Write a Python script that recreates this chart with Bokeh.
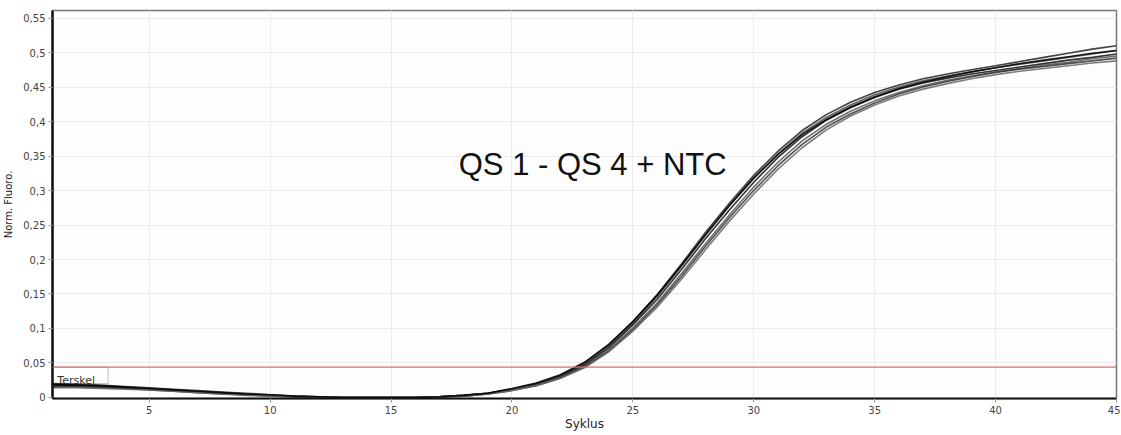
from bokeh.plotting import figure
from bokeh.models import Span, Label, FixedTicker, CustomJSTickFormatter, Range1d
from bokeh.embed import file_html
from bokeh.resources import INLINE

cycles = list(range(1, 46))
x_ticks = [5, 10, 15, 20, 25, 30, 35, 40, 45]
y_ticks = [0, 0.05, 0.1, 0.15, 0.2, 0.25, 0.3, 0.35, 0.4, 0.45, 0.5, 0.55]
threshold = 0.044
title_text = "QS 1 - QS 4 + NTC"
threshold_text = "Terskel"
x_label = "Syklus"
y_label = "Norm. Fluoro."

qs_a = [0.020,0.019,0.018,0.016,0.014,0.012,0.010,0.008,0.006,0.004,0.002,0.001,0.000,0.000,0.000,0.000,0.001,0.003,0.006,0.012,0.020,0.032,0.050,0.076,0.110,0.149,0.193,0.239,0.282,0.322,0.357,0.387,0.410,0.428,0.442,0.453,0.462,0.469,0.475,0.481,0.487,0.493,0.499,0.505,0.510]
qs_b = [0.018,0.017,0.016,0.015,0.013,0.011,0.009,0.007,0.005,0.003,0.002,0.001,0.000,0.000,0.000,0.000,0.001,0.003,0.006,0.012,0.019,0.031,0.048,0.074,0.107,0.146,0.190,0.235,0.278,0.318,0.353,0.383,0.406,0.424,0.439,0.450,0.459,0.466,0.472,0.478,0.483,0.488,0.493,0.498,0.503]
qs_c = [0.018,0.017,0.016,0.014,0.012,0.010,0.008,0.006,0.004,0.003,0.001,0.000,0.000,0.000,0.000,0.000,0.001,0.003,0.006,0.012,0.019,0.030,0.047,0.072,0.105,0.142,0.185,0.230,0.272,0.312,0.348,0.378,0.402,0.420,0.435,0.447,0.456,0.463,0.469,0.474,0.479,0.484,0.489,0.493,0.498]
qs_d = [0.015,0.015,0.014,0.013,0.012,0.010,0.008,0.006,0.004,0.003,0.001,0.000,0.000,0.000,0.000,0.000,0.001,0.002,0.005,0.011,0.018,0.029,0.045,0.069,0.101,0.137,0.179,0.223,0.265,0.305,0.341,0.372,0.396,0.415,0.430,0.442,0.452,0.460,0.466,0.472,0.477,0.482,0.486,0.491,0.495]
qs_e = [0.016,0.016,0.015,0.013,0.011,0.009,0.007,0.005,0.004,0.002,0.001,0.000,0.000,0.000,0.000,0.000,0.001,0.002,0.005,0.010,0.017,0.028,0.044,0.067,0.098,0.134,0.175,0.219,0.261,0.300,0.336,0.367,0.392,0.411,0.427,0.440,0.450,0.458,0.465,0.471,0.476,0.480,0.484,0.488,0.492]
qs_f = [0.014,0.014,0.013,0.012,0.011,0.009,0.007,0.005,0.003,0.002,0.001,0.000,0.000,0.000,0.000,0.000,0.001,0.002,0.005,0.010,0.017,0.028,0.043,0.066,0.096,0.131,0.171,0.214,0.256,0.295,0.331,0.362,0.388,0.408,0.424,0.437,0.447,0.455,0.462,0.468,0.473,0.477,0.481,0.485,0.488]
qs_g = [0.019,0.018,0.017,0.015,0.013,0.011,0.009,0.007,0.005,0.004,0.002,0.001,0.000,0.000,0.000,0.000,0.001,0.003,0.006,0.013,0.021,0.033,0.051,0.077,0.110,0.148,0.191,0.236,0.279,0.318,0.352,0.381,0.403,0.421,0.436,0.448,0.457,0.465,0.472,0.478,0.484,0.489,0.494,0.499,0.503]

series = [qs_a, qs_b, qs_c, qs_d, qs_e, qs_f, qs_g]
colors = ["#222222", "#444444", "#111111", "#555555", "#333333", "#666666", "#000000"]

p = figure(width=1120, height=433, output_backend="svg", toolbar_location=None,
           x_range=Range1d(1, 45), y_range=Range1d(-0.0015, 0.561),
           min_border_left=40, min_border_right=4, min_border_top=10, min_border_bottom=0)
p.background_fill_color = "#fdfdfd"
p.border_fill_color = "white"
p.outline_line_color = "#777777"
p.outline_line_width = 1.5

p.xgrid.grid_line_color = "#ebebeb"
p.ygrid.grid_line_color = "#ebebeb"

p.xaxis.ticker = FixedTicker(ticks=x_ticks)
p.yaxis.ticker = FixedTicker(ticks=y_ticks)
p.yaxis.formatter = CustomJSTickFormatter(code="var s = (Math.round(tick*100)/100).toString(); return s.replace('.', ',');")

for ax in (p.xaxis[0], p.yaxis[0]):
    ax.axis_line_color = "#111111"
    ax.major_tick_line_color = "#999999"
    ax.major_tick_in = 0
    ax.major_tick_out = 4
    ax.minor_tick_line_color = None
    ax.major_label_text_font = "DejaVu Sans"
    ax.major_label_text_font_size = "10px"
    ax.major_label_text_color = "#444444"
    ax.axis_label_text_font = "DejaVu Sans"
    ax.axis_label_text_font_style = "normal"
    ax.axis_label_text_color = "#222222"

p.yaxis.axis_line_width = 2.5
p.xaxis.axis_line_width = 2
p.yaxis.major_label_standoff = 3
p.xaxis.major_label_standoff = 3
p.xaxis.axis_label = x_label
p.yaxis.axis_label = y_label
p.xaxis.axis_label_text_font_size = "12px"
p.yaxis.axis_label_text_font_size = "10px"
p.xaxis.axis_label_standoff = 0
p.yaxis.axis_label_standoff = 6

# threshold label box
p.quad(left=[1], right=[3.3], bottom=[0.02], top=[threshold],
       fill_color="white", line_color="#bbbbbb", line_width=1)

for s, c in zip(series, colors):
    p.line(cycles, s, line_color=c, line_width=1.6, line_alpha=0.85)

p.add_layout(Span(location=threshold, dimension="width", line_color="#e06a6a", line_width=1.3))

p.add_layout(Label(x=1.2, y=0.025, text=threshold_text, text_font="DejaVu Sans",
                   text_font_size="11px", text_color="#333333", text_baseline="alphabetic"))
p.add_layout(Label(x=17.8, y=0.338, text=title_text, text_font="Liberation Sans",
                   text_font_size="31px", text_color="#111111", text_baseline="alphabetic"))

open("out.html", "w").write(file_html(p, INLINE))
